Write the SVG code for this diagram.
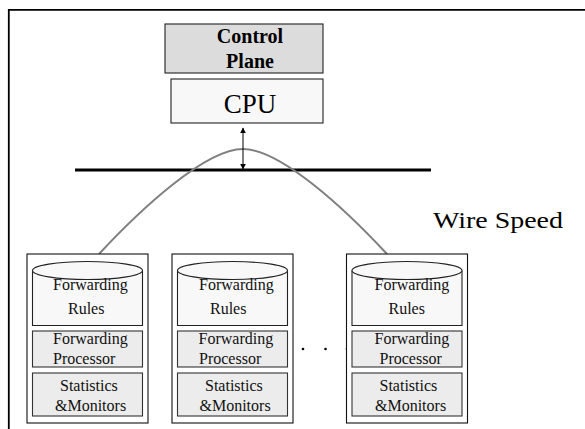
<svg xmlns="http://www.w3.org/2000/svg" width="585" height="429" viewBox="0 0 585 429">
<defs>
<style>
.frame{fill:none;stroke:#000;stroke-width:1.8}
.outer{fill:#fff;stroke:#111;stroke-width:1.1}
.cyl{fill:#f8f8f8;stroke:#222;stroke-width:1.1}
.sub{fill:#ececec;stroke:#333;stroke-width:1.1}
.t{font-family:"Liberation Serif","Times New Roman",serif;font-size:16px;fill:#111}
.big{font-family:"Liberation Serif","Times New Roman",serif;fill:#000}
</style>
<marker id="ah" viewBox="0 0 10 10" refX="9" refY="5" markerWidth="6" markerHeight="7" orient="auto-start-reverse" markerUnits="userSpaceOnUse">
<path d="M0,0 L10,5 L0,10 z" fill="#000"/>
</marker>
</defs>
<rect width="585" height="429" fill="#fff"/>
<path class="frame" d="M8.8,429 V9.8 H585"/>

<g id="control-plane">
<rect x="165" y="24" width="158" height="49" fill="#dcdcdc" stroke="#222" stroke-width="1.1"/>
<text class="big" x="250" y="43" font-size="20" font-weight="bold" text-anchor="middle">Control</text>
<text class="big" x="250" y="68" font-size="20" font-weight="bold" text-anchor="middle">Plane</text>
</g>

<g id="cpu">
<rect x="171" y="79" width="152" height="44" fill="#f8f8f8" stroke="#222" stroke-width="1.1"/>
<text class="big" x="250" y="113" font-size="27" text-anchor="middle">CPU</text>
</g>

<g id="bus">
<line x1="75" y1="170" x2="431" y2="170" stroke="#000" stroke-width="2.8"/>
</g>

<g id="connectors">
<path d="M99,254 C140,210 205,149 243,149 C281,149 346,210 387,254" fill="none" stroke="#808080" stroke-width="2"/>
<line x1="243" y1="128" x2="243" y2="169" stroke="#000" stroke-width="1" marker-start="url(#ah)" marker-end="url(#ah)"/>
</g>

<g id="wire-speed">
<text class="big" x="433" y="228" font-size="23" textLength="130" lengthAdjust="spacingAndGlyphs">Wire  Speed</text>
</g>

<g id="switch-1">
<rect class="outer" x="27" y="254" width="121" height="169"/>
<path class="cyl" d="M32.5,270.5 V325.5 H142.5 V270.5"/>
<ellipse class="cyl" cx="87.5" cy="270.5" rx="55" ry="9"/>
<text class="t" x="53" y="290">Forwarding</text>
<text class="t" x="68" y="314">Rules</text>
<rect class="sub" x="32.5" y="331" width="110" height="36"/>
<text class="t" x="53" y="344">Forwarding</text>
<text class="t" x="53" y="364">Processor</text>
<rect class="sub" x="32.5" y="373" width="110" height="43"/>
<text class="t" x="60" y="391">Statistics</text>
<text class="t" x="55" y="411">&amp;Monitors</text>
</g>

<g id="switch-2">
<rect class="outer" x="172" y="254" width="121" height="169"/>
<path class="cyl" d="M177.5,270.5 V325.5 H287.5 V270.5"/>
<ellipse class="cyl" cx="232.5" cy="270.5" rx="55" ry="9"/>
<text class="t" x="199" y="290">Forwarding</text>
<text class="t" x="210" y="314">Rules</text>
<rect class="sub" x="177.5" y="331" width="110" height="36"/>
<text class="t" x="198.5" y="344">Forwarding</text>
<text class="t" x="199" y="364">Processor</text>
<rect class="sub" x="177.5" y="373" width="110" height="43"/>
<text class="t" x="205" y="391">Statistics</text>
<text class="t" x="199.5" y="411">&amp;Monitors</text>
</g>

<g id="ellipsis">
<circle cx="303" cy="349" r="1.3" fill="#000"/>
<circle cx="325.5" cy="349" r="1.3" fill="#000"/>
<circle cx="347" cy="349" r="1.3" fill="#000"/>
</g>

<g id="switch-n">
<rect class="outer" x="346.5" y="254" width="121" height="169"/>
<path class="cyl" d="M352,270.5 V325.5 H462 V270.5"/>
<ellipse class="cyl" cx="407" cy="270.5" rx="55" ry="9"/>
<text class="t" x="374.5" y="290">Forwarding</text>
<text class="t" x="388.5" y="314">Rules</text>
<rect class="sub" x="352" y="331" width="110" height="36"/>
<text class="t" x="374.5" y="344">Forwarding</text>
<text class="t" x="379.5" y="364">Processor</text>
<rect class="sub" x="352" y="373" width="110" height="43"/>
<text class="t" x="379.5" y="391">Statistics</text>
<text class="t" x="375" y="411">&amp;Monitors</text>
</g>
</svg>
